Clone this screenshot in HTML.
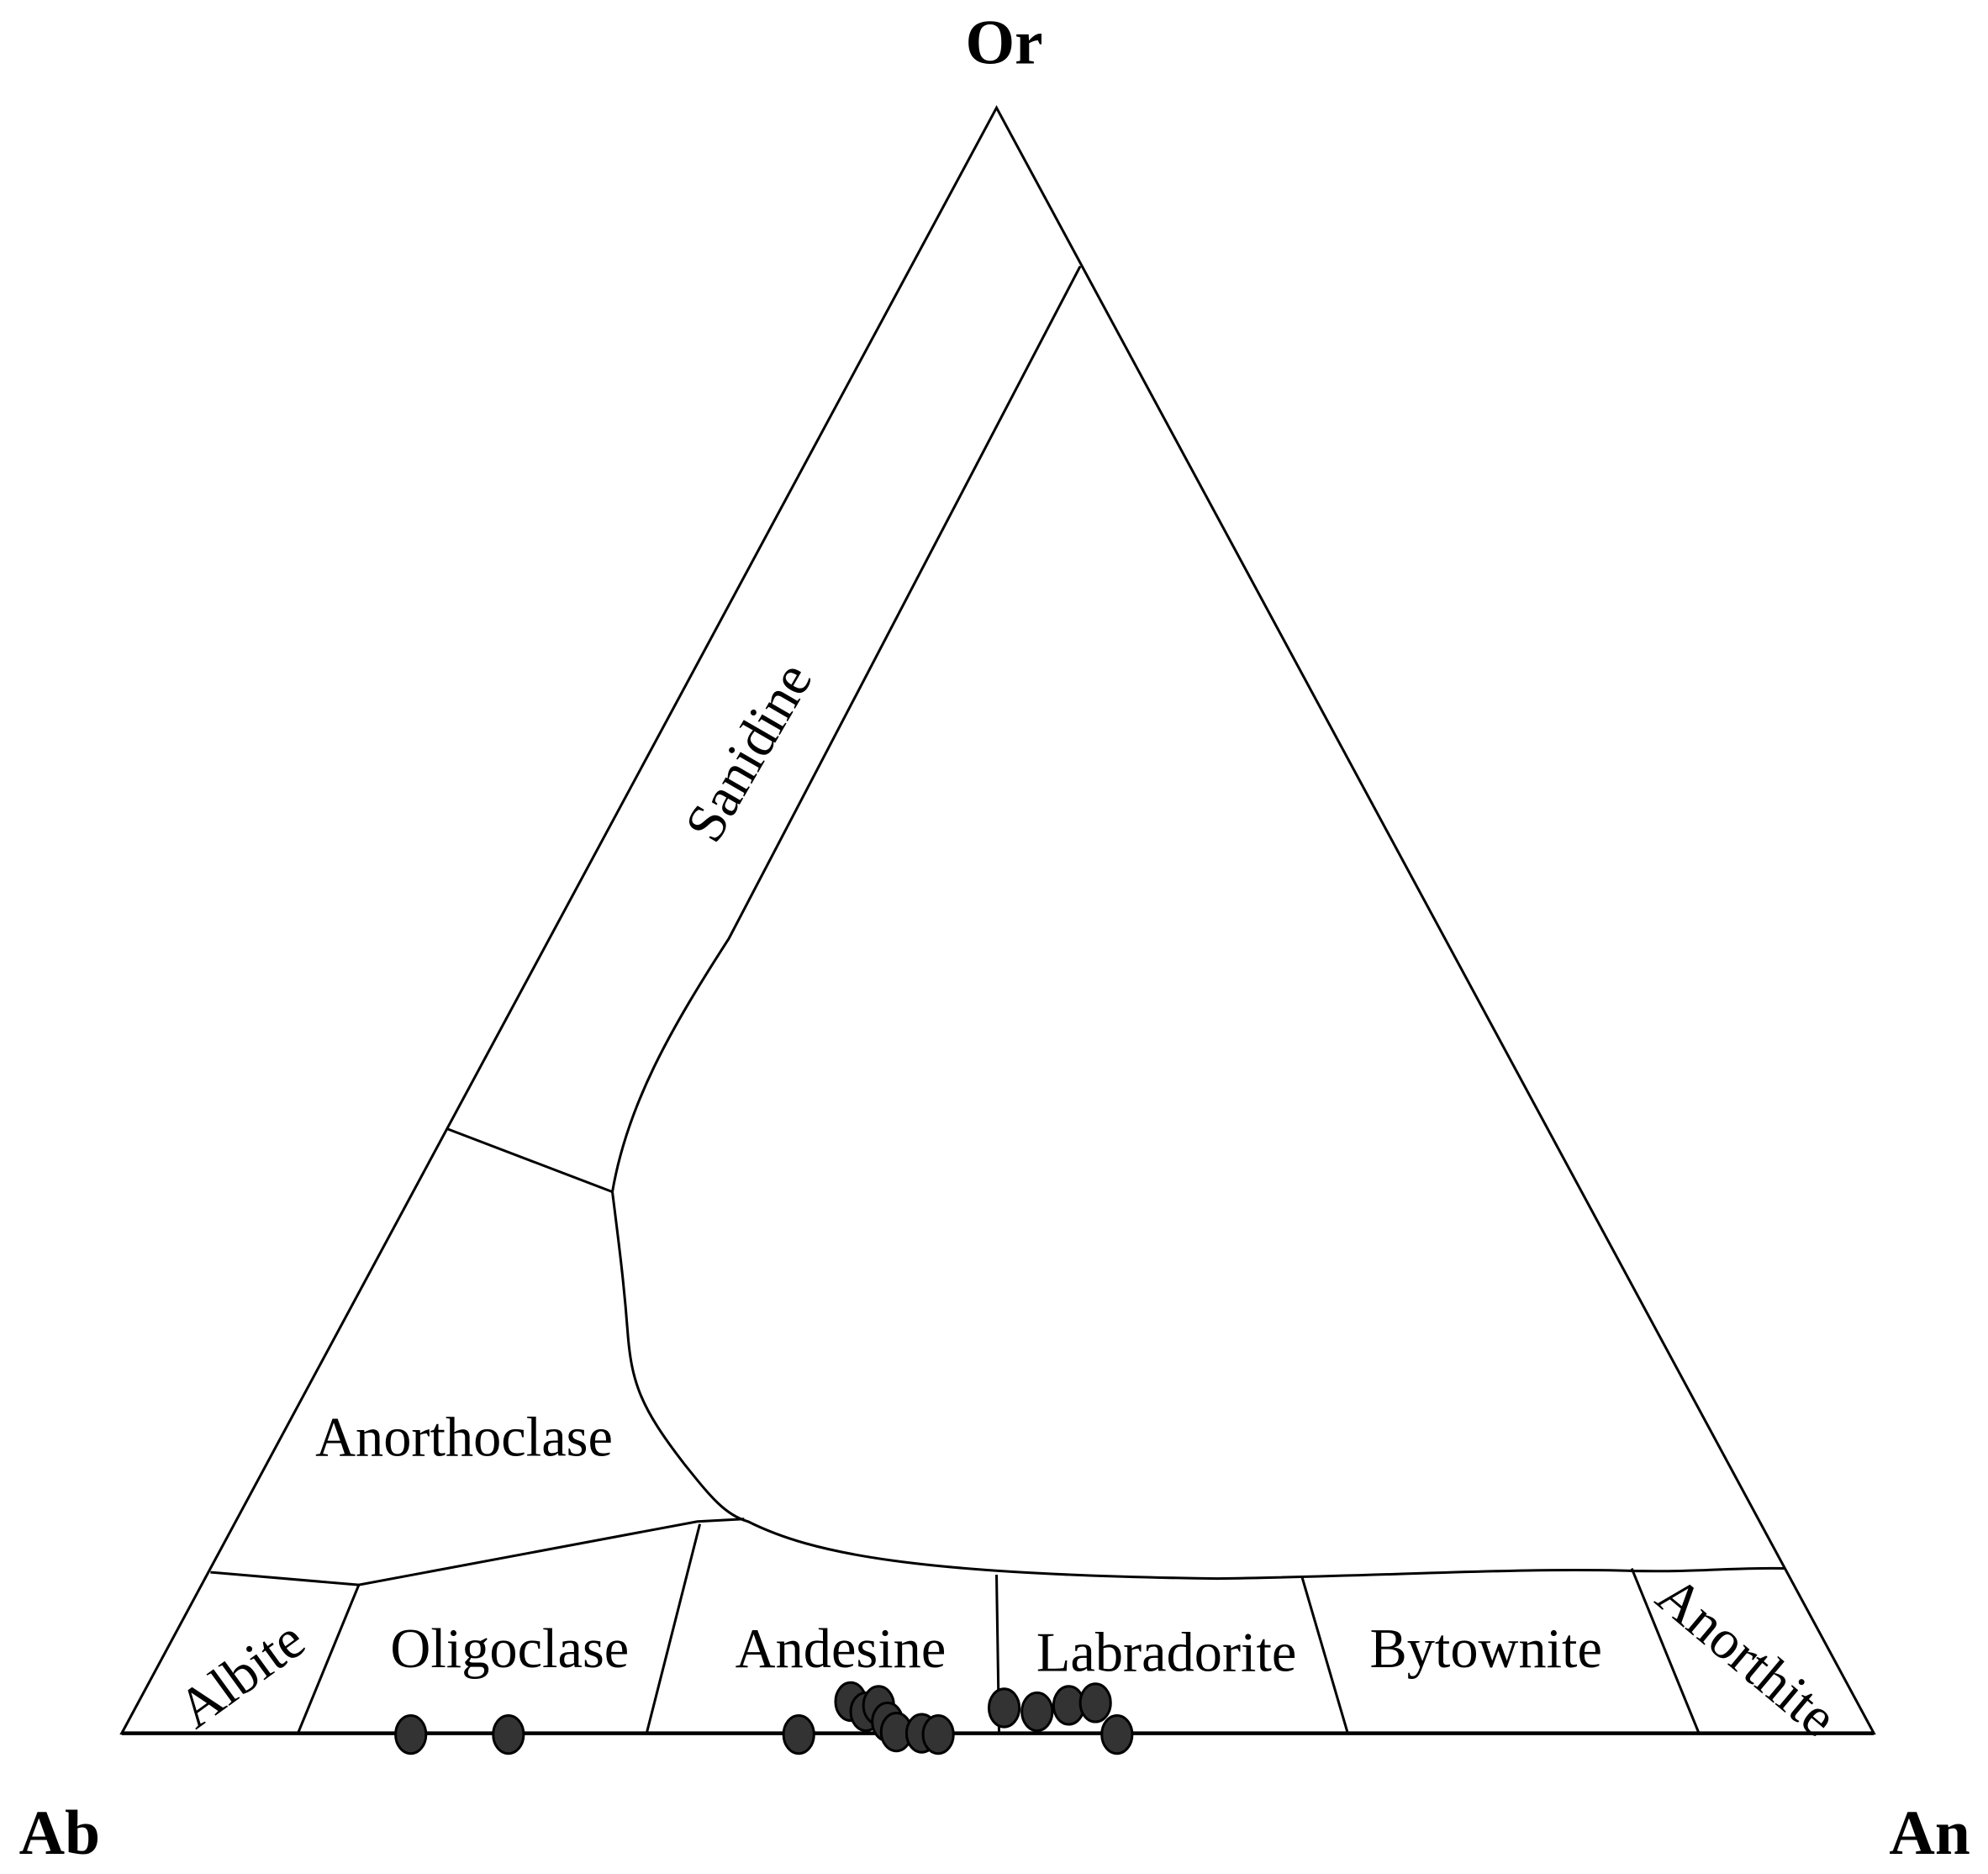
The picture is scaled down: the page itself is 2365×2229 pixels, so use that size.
<!DOCTYPE html>
<html><head><meta charset="utf-8"><style>html,body{margin:0;padding:0;background:#fff}svg{display:block}</style></head>
<body>
<svg width="2365" height="2229" viewBox="0 0 1568 1478" preserveAspectRatio="none" xmlns="http://www.w3.org/2000/svg" font-family="Liberation Serif, serif">
<g fill="none" stroke="#000" stroke-width="2">
<polygon points="786,85 96,1367 1478,1367"/>
<path d="M852,210 L575,740 C530,810 495,870 483,940 C488,980 492,1010 495,1050 C498,1090 505,1110 540,1155 C560,1180 572,1195 590,1200 C640,1225 720,1242 960,1245 C1100,1243 1200,1236 1290,1239 C1340,1240 1370,1236 1408,1237"/>
<line x1="352" y1="890" x2="483" y2="940"/>
<polyline points="166,1240 283,1250 550,1200 587,1198"/>
<line x1="283" y1="1250" x2="235" y2="1367"/>
<line x1="552" y1="1202" x2="510" y2="1367"/>
<line x1="786" y1="1242" x2="788" y2="1367"/>
<line x1="1027" y1="1244" x2="1063" y2="1367"/>
<line x1="1287" y1="1237" x2="1340" y2="1367"/>
</g>
<line x1="96" y1="1367" x2="1478" y2="1367" stroke="#000" stroke-width="3"/>
<g font-size="44" fill="#000" text-anchor="middle">
<text x="590" y="608" transform="rotate(-60 590 593)">Sanidine</text>
<text x="366" y="1148">Anorthoclase</text>
<text x="190" y="1335" transform="rotate(-36 190 1320)">Albite</text>
<text x="402" y="1315">Oligoclase</text>
<text x="663" y="1315">Andesine</text>
<text x="920" y="1318">Labradorite</text>
<text x="1172" y="1315">Bytownite</text>
<text x="1378" y="1321" transform="rotate(40 1378 1306)">Anorthite</text>
</g>
<g font-size="50" font-weight="bold" fill="#000" text-anchor="middle">
<text x="792" y="50">Or</text>
<text x="47" y="1462">Ab</text>
<text x="1522" y="1462">An</text>
</g>
<g fill="#333" stroke="#000" stroke-width="2">
<ellipse cx="324" cy="1368" rx="12" ry="15"/>
<ellipse cx="401" cy="1368" rx="12" ry="15"/>
<ellipse cx="630" cy="1368" rx="12" ry="15"/>
<ellipse cx="671" cy="1342" rx="12" ry="15"/>
<ellipse cx="683" cy="1350" rx="12" ry="15"/>
<ellipse cx="693" cy="1345" rx="12" ry="15"/>
<ellipse cx="700" cy="1358" rx="12" ry="15"/>
<ellipse cx="707" cy="1366" rx="12" ry="15"/>
<ellipse cx="727" cy="1367" rx="12" ry="15"/>
<ellipse cx="740" cy="1368" rx="12" ry="15"/>
<ellipse cx="792" cy="1347" rx="12" ry="15"/>
<ellipse cx="818" cy="1350" rx="12" ry="15"/>
<ellipse cx="843" cy="1345" rx="12" ry="15"/>
<ellipse cx="864" cy="1343" rx="12" ry="15"/>
<ellipse cx="881" cy="1368" rx="12" ry="15"/>
</g>
</svg>
</body></html>
